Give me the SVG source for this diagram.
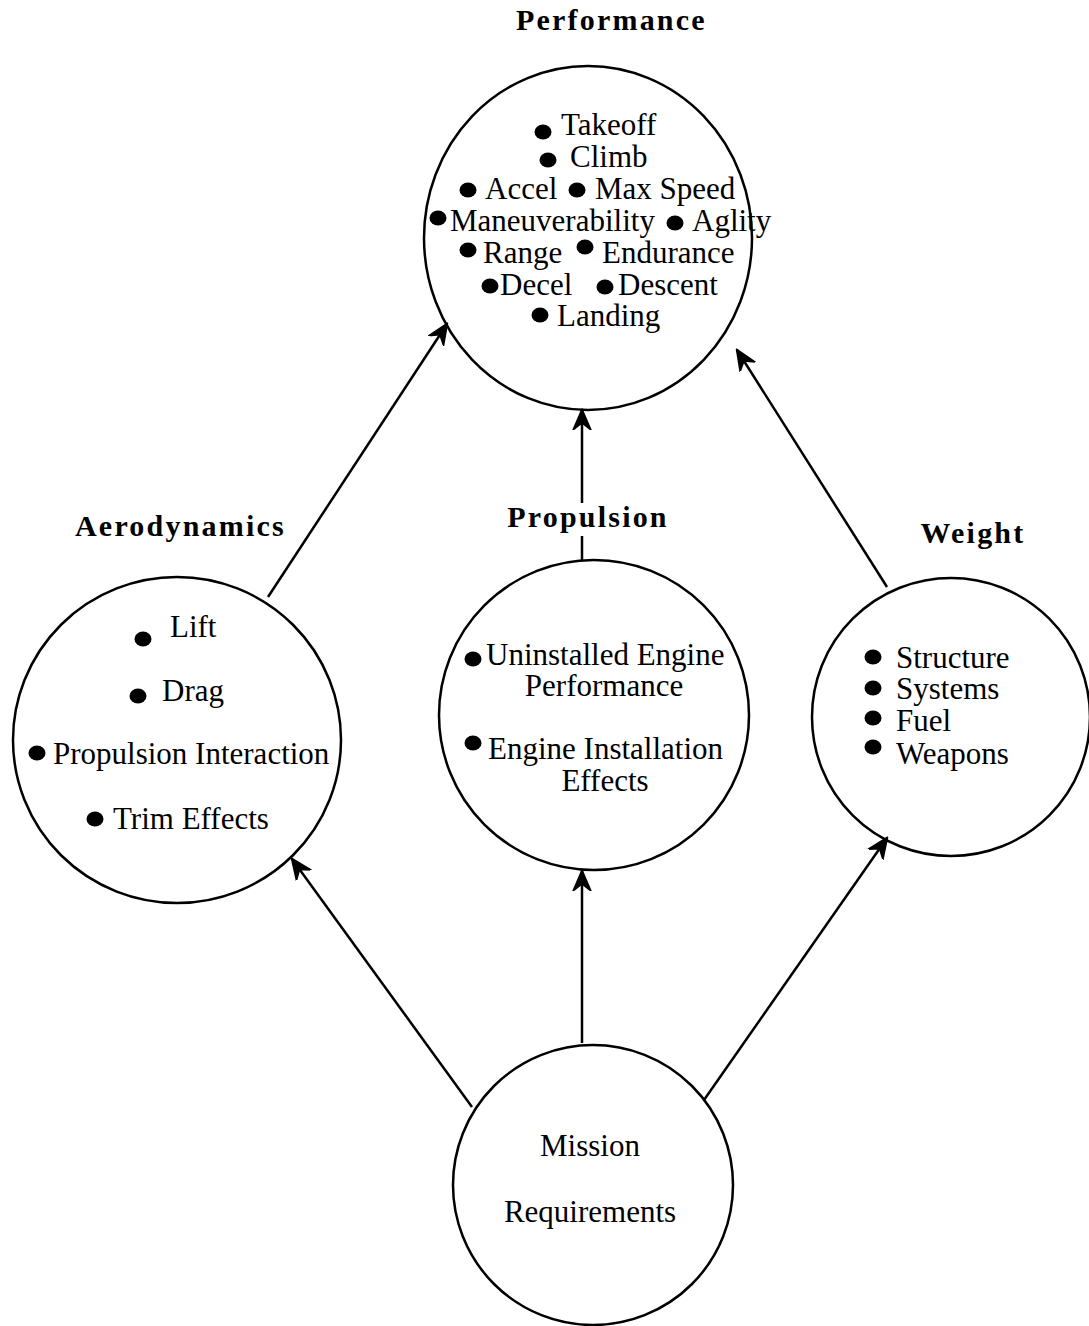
<svg xmlns="http://www.w3.org/2000/svg" width="1089" height="1326" viewBox="0 0 1089 1326">
<defs>
<style>
.c{fill:none;stroke:#000;stroke-width:2.5}
.t{font-family:"Liberation Serif","Times New Roman",serif;font-size:31px;fill:#000}
.h{font-family:"Liberation Serif","Times New Roman",serif;font-size:30px;font-weight:bold;letter-spacing:2.2px;fill:#000}
.m{text-anchor:middle}
.b{fill:#000}
.l{fill:none;stroke:#000;stroke-width:2.5}
</style>
<marker id="ah" markerUnits="userSpaceOnUse" viewBox="0 0 22 22" markerWidth="22" markerHeight="22" refX="20" refY="11" orient="auto">
<path d="M0,2 L21,11 L0,20 L7,11 Z" fill="#000" stroke="#000" stroke-width="1.5" stroke-linejoin="round"/>
</marker>
</defs>
<rect width="1089" height="1326" fill="#fff"/>
<g id="connectors">
<path class="l" d="M268,597 L447,324" marker-end="url(#ah)"/>
<path class="l" d="M582,560 L582,536 M582,503 L582,410" marker-end="url(#ah)"/>
<path class="l" d="M887,587 L737,350" marker-end="url(#ah)"/>
<path class="l" d="M472,1107 L292,859" marker-end="url(#ah)"/>
<path class="l" d="M582,1043 L582,871" marker-end="url(#ah)"/>
<path class="l" d="M704,1100 L887,838" marker-end="url(#ah)"/>
</g>
<g id="performance">
<ellipse class="c" cx="588" cy="238" rx="164" ry="172"/>
<text class="h" x="516" y="30">Performance</text>
<ellipse class="b" cx="543" cy="132" rx="8.5" ry="7.5"/><text class="t" x="561" y="135">Takeoff</text>
<ellipse class="b" cx="548" cy="160" rx="8.5" ry="7.5"/><text class="t" x="570" y="167">Climb</text>
<ellipse class="b" cx="468" cy="190" rx="8.5" ry="7.5"/><text class="t" x="485" y="199">Accel</text>
<ellipse class="b" cx="577" cy="190" rx="8.5" ry="7.5"/><text class="t" x="595" y="199">Max Speed</text>
<ellipse class="b" cx="438" cy="218" rx="8.5" ry="7.5"/><text class="t" x="450" y="231">Maneuverability</text>
<ellipse class="b" cx="675" cy="223" rx="8.5" ry="7.5"/><text class="t" x="692" y="231">Aglity</text>
<ellipse class="b" cx="468" cy="250" rx="8.5" ry="7.5"/><text class="t" x="483" y="263">Range</text>
<ellipse class="b" cx="585" cy="247" rx="8.5" ry="7.5"/><text class="t" x="602" y="263">Endurance</text>
<ellipse class="b" cx="490" cy="286" rx="8.5" ry="7.5"/><text class="t" x="500" y="295">Decel</text>
<ellipse class="b" cx="605" cy="287" rx="8.5" ry="7.5"/><text class="t" x="618" y="295">Descent</text>
<ellipse class="b" cx="540" cy="315" rx="8.5" ry="7.5"/><text class="t" x="557" y="326">Landing</text>
</g>
<g id="aerodynamics">
<ellipse class="c" cx="177" cy="740" rx="164" ry="163"/>
<text class="h" x="75" y="536">Aerodynamics</text>
<ellipse class="b" cx="143" cy="639" rx="8.5" ry="7.5"/><text class="t" x="170" y="637">Lift</text>
<ellipse class="b" cx="138" cy="696" rx="8.5" ry="7.5"/><text class="t" x="162" y="701">Drag</text>
<ellipse class="b" cx="37" cy="753" rx="8.5" ry="7.5"/><text class="t" x="53" y="764">Propulsion Interaction</text>
<ellipse class="b" cx="95" cy="819" rx="8.5" ry="7.5"/><text class="t" x="113" y="829">Trim Effects</text>
</g>
<g id="propulsion">
<circle class="c" cx="594" cy="715" r="155"/>
<text class="h m" x="588" y="527">Propulsion</text>
<ellipse class="b" cx="473" cy="659" rx="8.5" ry="7.5"/><text class="t" x="486" y="665">Uninstalled Engine</text>
<text class="t m" x="604" y="696">Performance</text>
<ellipse class="b" cx="473" cy="743" rx="8.5" ry="7.5"/><text class="t" x="488" y="759">Engine Installation</text>
<text class="t m" x="605" y="791">Effects</text>
</g>
<g id="weight">
<circle class="c" cx="951" cy="717" r="139"/>
<text class="h m" x="973" y="543">Weight</text>
<ellipse class="b" cx="873" cy="657" rx="8.5" ry="7.5"/><text class="t" x="896" y="668">Structure</text>
<ellipse class="b" cx="873" cy="688" rx="8.5" ry="7.5"/><text class="t" x="896" y="699">Systems</text>
<ellipse class="b" cx="873" cy="718" rx="8.5" ry="7.5"/><text class="t" x="896" y="731">Fuel</text>
<ellipse class="b" cx="873" cy="747" rx="8.5" ry="7.5"/><text class="t" x="896" y="764">Weapons</text>
</g>
<g id="mission">
<circle class="c" cx="593" cy="1185" r="140"/>
<text class="t m" x="590" y="1156">Mission</text>
<text class="t m" x="590" y="1222">Requirements</text>
</g>
</svg>
